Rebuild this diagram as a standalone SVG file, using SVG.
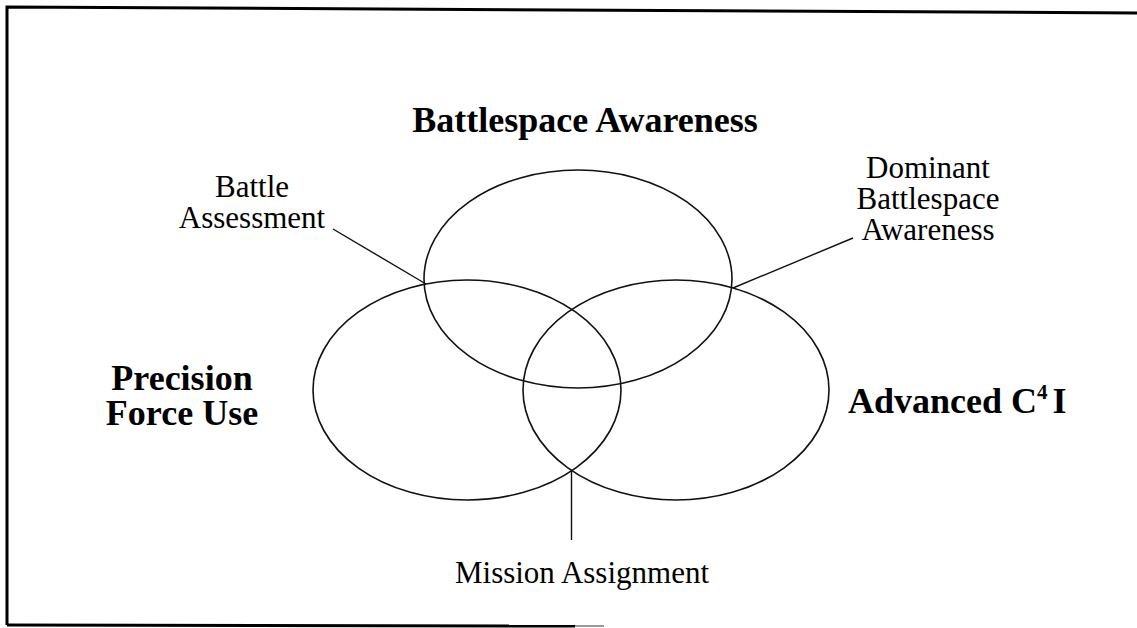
<svg xmlns="http://www.w3.org/2000/svg" width="1137" height="628" viewBox="0 0 1137 628">
<style>
.frame{fill:none;stroke:#000;stroke-width:3}
.ell{fill:none;stroke:#111;stroke-width:1.6}
.con{fill:none;stroke:#111;stroke-width:1.4}
.lbl{font-family:"Liberation Serif","Times New Roman",serif;font-size:31px;fill:#000;text-anchor:middle}
.big{font-family:"Liberation Serif","Times New Roman",serif;font-size:36px;font-weight:bold;fill:#000;text-anchor:middle}
</style>
<rect width="1137" height="628" fill="#fff"/>
<g id="frame">
<path class="frame" d="M7,625 L7,7 L1137,13"/>
<path class="frame" d="M7,625 L575,626"/>
<path d="M575,626 L604,626" stroke="#999" stroke-width="2"/>
</g>
<g id="battlespace-awareness">
<ellipse class="ell" cx="578" cy="279" rx="154" ry="109"/>
<text class="big" x="585" y="132">Battlespace Awareness</text>
</g>
<g id="precision-force-use">
<ellipse class="ell" cx="467" cy="390" rx="154" ry="110"/>
<text class="big" x="182" y="390" font-size="35">Precision</text>
<text class="big" x="182" y="425" font-size="35">Force Use</text>
</g>
<g id="advanced-c4i">
<ellipse class="ell" cx="676" cy="390" rx="153" ry="110"/>
<text class="big" x="848" y="413" style="text-anchor:start">Advanced C<tspan font-size="21" dy="-14">4</tspan><tspan dy="14" dx="5">I</tspan></text>
</g>
<g id="battle-assessment">
<text class="lbl" x="252" y="197">Battle</text>
<text class="lbl" x="252" y="228">Assessment</text>
</g>
<g id="dominant-battlespace-awareness">
<text class="lbl" x="928" y="178">Dominant</text>
<text class="lbl" x="928" y="209">Battlespace</text>
<text class="lbl" x="928" y="240">Awareness</text>
</g>
<g id="mission-assignment">
<text class="lbl" x="582" y="583">Mission Assignment</text>
</g>
<g id="connectors">
<line class="con" x1="333" y1="229" x2="426" y2="284"/>
<line class="con" x1="853" y1="238" x2="733" y2="288"/>
<line class="con" x1="571.5" y1="471" x2="571.5" y2="540"/>
</g>
</svg>
